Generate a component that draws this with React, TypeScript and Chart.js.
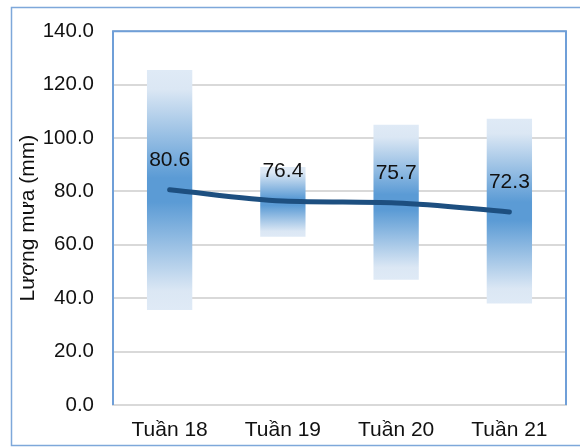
import React, { useEffect, useRef } from "react";
import { Chart, registerables } from "chart.js";

Chart.register(...registerables);

const categories = ["Tuần 18", "Tuần 19", "Tuần 20", "Tuần 21"];
const averageValues = [80.6, 76.4, 75.7, 72.3];
const rangeLow = [35.6, 63.0, 46.9, 38.0];
const rangeHigh = [125.5, 89.2, 105.0, 107.2];
const yTitle = "Lượng mưa (mm)";

const FONT = "'Liberation Sans', Arial, sans-serif";

const framePlugin = {
  id: "frame",
  beforeDraw(chart: any) {
    const c = chart.ctx;
    c.save();
    c.fillStyle = "#ffffff";
    c.fillRect(0, 0, chart.width, chart.height);
    c.strokeStyle = "#7ea8da";
    c.lineWidth = 1.5;
    c.strokeRect(11.5, 7.5, 600, 438);
    c.restore();
  },
  afterDatasetsDraw(chart: any) {
    const c = chart.ctx;
    const a = chart.chartArea;
    c.save();
    const meta = chart.getDatasetMeta(0);
    c.fillStyle = "#111111";
    c.font = `21px ${FONT}`;
    c.textAlign = "center";
    c.textBaseline = "middle";
    meta.data.forEach((pt: any, i: number) => {
      c.fillText(averageValues[i].toFixed(1), pt.x, pt.y - 30);
    });
    c.strokeStyle = "#6f9fd8";
    c.lineWidth = 2;
    c.beginPath();
    c.moveTo(a.left, a.bottom);
    c.lineTo(a.left, a.top);
    c.lineTo(a.right, a.top);
    c.lineTo(a.right, a.bottom);
    c.stroke();
    c.restore();
  },
};

export default function App() {
  const ref = useRef<HTMLCanvasElement | null>(null);
  useEffect(() => {
    if (!ref.current) return;
    const barData = categories.map((_, i) => [rangeLow[i], rangeHigh[i]]);
    const chart = new Chart(ref.current, {
      type: "bar",
      data: {
        labels: categories,
        datasets: [
          {
            type: "line",
            data: averageValues,
            borderColor: "#1d4f80",
            borderWidth: 5,
            borderCapStyle: "round",
            tension: 0.4,
            cubicInterpolationMode: "monotone",
            pointRadius: 0,
            order: 0,
          } as any,
          {
            type: "bar",
            data: barData as any,
            borderWidth: 0,
            barPercentage: 0.5,
            categoryPercentage: 0.8,
            order: 1,
            backgroundColor: (ctx: any) => {
              const chart = ctx.chart;
              const raw = ctx.raw;
              if (!chart.chartArea || !raw || !chart.scales.y) return "#5b9bd5";
              const yTop = chart.scales.y.getPixelForValue(raw[1]);
              const yBot = chart.scales.y.getPixelForValue(raw[0]);
              const g = chart.ctx.createLinearGradient(0, yTop, 0, yBot);
              g.addColorStop(0, "#dfeaf6");
              g.addColorStop(0.08, "#dbe7f4");
              g.addColorStop(0.45, "#5b9bd5");
              g.addColorStop(0.55, "#5b9bd5");
              g.addColorStop(0.92, "#dbe7f4");
              g.addColorStop(1, "#dfeaf6");
              return g;
            },
          } as any,
        ],
      },
      options: {
        responsive: false,
        animation: false,
        layout: { padding: { top: 29, right: 14, left: 0, bottom: 0 } },
        plugins: { legend: { display: false }, tooltip: { enabled: false } },
        scales: {
          x: {
            grid: { display: false, drawTicks: false },
            border: { display: true, color: "#d9d9d9", width: 2 },
            ticks: { color: "#111111", font: { family: FONT, size: 21 }, padding: 13 },
            afterFit: (s: any) => {
              s.height = 42;
            },
          },
          y: {
            min: 0,
            max: 140,
            ticks: {
              stepSize: 20,
              color: "#111111",
              font: { family: FONT, size: 20.5 },
              padding: 19,
              callback: (v: any) => Number(v).toFixed(1),
            },
            grid: { color: "#d9d9d9", lineWidth: 2, drawTicks: false },
            border: { display: false },
            title: {
              display: true,
              text: yTitle,
              color: "#111111",
              font: { family: FONT, size: 21 },
              padding: { top: 16, bottom: 0 },
            },
            afterFit: (s: any) => {
              s.width = 113;
            },
          },
        },
      },
      plugins: [framePlugin],
    });
    return () => chart.destroy();
  }, []);
  return (
    <div style={{ position: "absolute", left: 0, top: 0, width: 580, height: 447 }}>
      <canvas ref={ref} width={580} height={447} style={{ display: "block" }} />
    </div>
  );
}
